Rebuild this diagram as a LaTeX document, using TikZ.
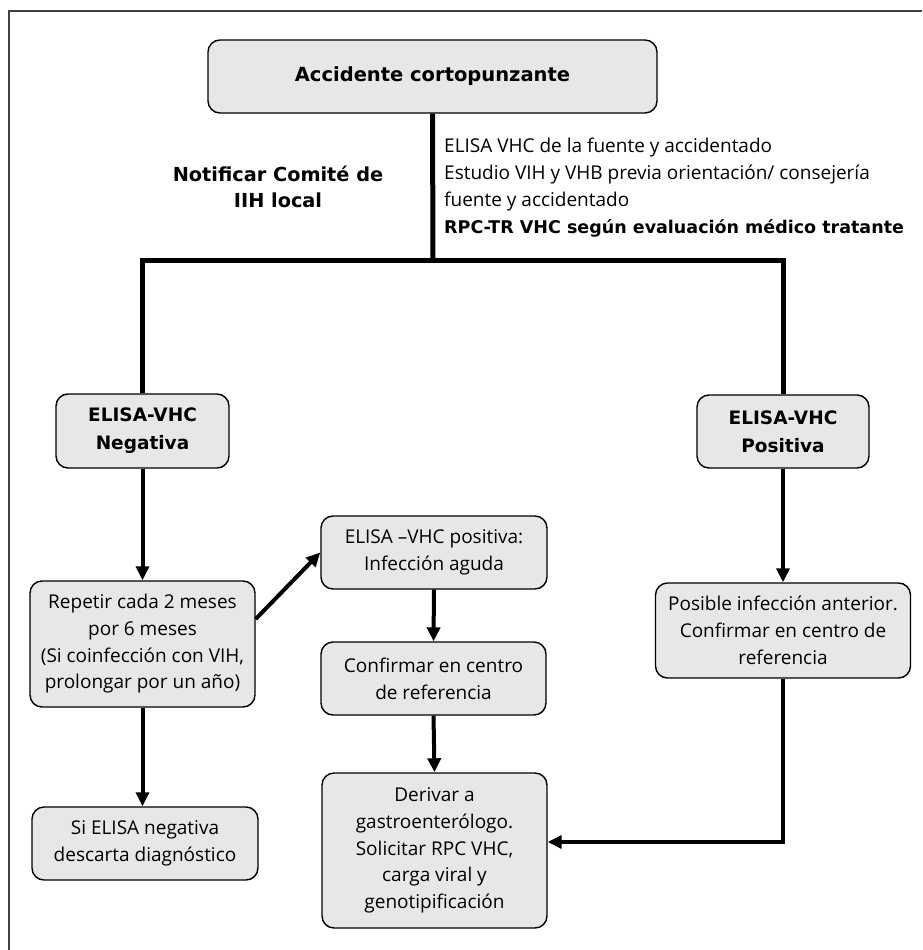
\documentclass[tikz,border=0pt]{standalone}
\usepackage{fontspec}
\setmainfont{Open Sans}
\newfontfamily\hdfont{DejaVu Sans}
\usetikzlibrary{arrows.meta,calc}
\definecolor{boxgray}{HTML}{E6E7E8}
\begin{document}
\begin{tikzpicture}[x=1pt,y=-1pt,
  box/.style={draw=black, line width=1.4pt, fill=boxgray, rounded corners=12pt,
    inner sep=0pt, align=center, font=\fontsize{19}{26.7}\selectfont},
  hbox/.style={box, font=\fontsize{18.5}{28}\selectfont\hdfont\bfseries},
  arr/.style={line width=4pt, -{Triangle[width=13pt,length=14pt]}},
  trunk/.style={line width=5pt, line join=miter},
  lbl/.style={inner sep=0pt, font=\fontsize{19}{27.2}\selectfont}]
\useasboundingbox (0,0) rectangle (922,950);
\draw[line width=1.2pt, black!75] (9,950) -- (9,11) -- (922,11);

\node[hbox, font=\fontsize{19.5}{28}\selectfont\hdfont\bfseries, minimum width=449pt, minimum height=73pt] (top) at (432.5,76.5) {Accidente cortopunzante};
\node[lbl, align=center, font=\fontsize{19.3}{26.5}\selectfont\hdfont\bfseries] (notif) at (278,187) {Notificar Comité de\\IIH local};
\node[lbl, align=left, anchor=west] (study) at (444,187.5) {ELISA VHC de la fuente y accidentado\\Estudio VIH y VHB previa orientación/ consejería\\fuente y accidentado\\{\hdfont\bfseries\fontsize{17.5}{27.2}\selectfont RPC-TR VHC según evaluación médico tratante}};

\node[hbox, minimum width=173pt, minimum height=74pt] (neg) at (142.5,431) {ELISA-VHC\\Negativa};
\node[hbox, minimum width=172pt, minimum height=73pt] (pos) at (783,431.5) {ELISA-VHC\\Positiva};
\coordinate (j) at (433,260);

\draw[trunk] (top.south) -- (j);
\draw[trunk] (neg.north) -- (neg.north |- j) -- (pos.north |- j) -- (pos.north);

\node[box, minimum width=225pt, minimum height=126pt] (rep) at (142.5,644) {Repetir cada 2 meses\\por 6 meses\\(Si coinfección con VIH,\\prolongar por un año)};
\node[box, minimum width=226pt, minimum height=73pt] (epos) at (434,552.5) {ELISA –VHC positiva:\\Infección aguda};
\node[box, minimum width=225pt, minimum height=73pt] (conf) at (433.5,678.5) {Confirmar en centro\\de referencia};
\node[box, minimum width=225pt, minimum height=155pt] (deriv) at (434.5,850.5) {Derivar a\\gastroenterólogo.\\Solicitar RPC VHC,\\carga viral y\\genotipificación};
\node[box, minimum width=226pt, minimum height=73pt] (si) at (145,843.5) {Si ELISA negativa\\descarta diagnóstico};
\node[box, minimum width=255pt, minimum height=95pt] (posib) at (783,630.5) {Posible infección anterior.\\Confirmar en centro de\\referencia};

\draw[arr] (neg.south) -- (rep.north);
\draw[arr] ([yshift=25pt]rep.east) -- (epos.west);
\draw[arr] (epos.south) -- (conf.north);
\draw[arr] (conf.south) -- (deriv.north);
\draw[arr] (rep.south) -- (rep.south |- si.north);
\draw[arr] (pos.south) -- (posib.north);
\coordinate (dE) at ([yshift=8.5pt]deriv.east);
\draw[arr, line join=miter] (posib.south) -- (posib.south |- dE) -- (dE);
\end{tikzpicture}
\end{document}
